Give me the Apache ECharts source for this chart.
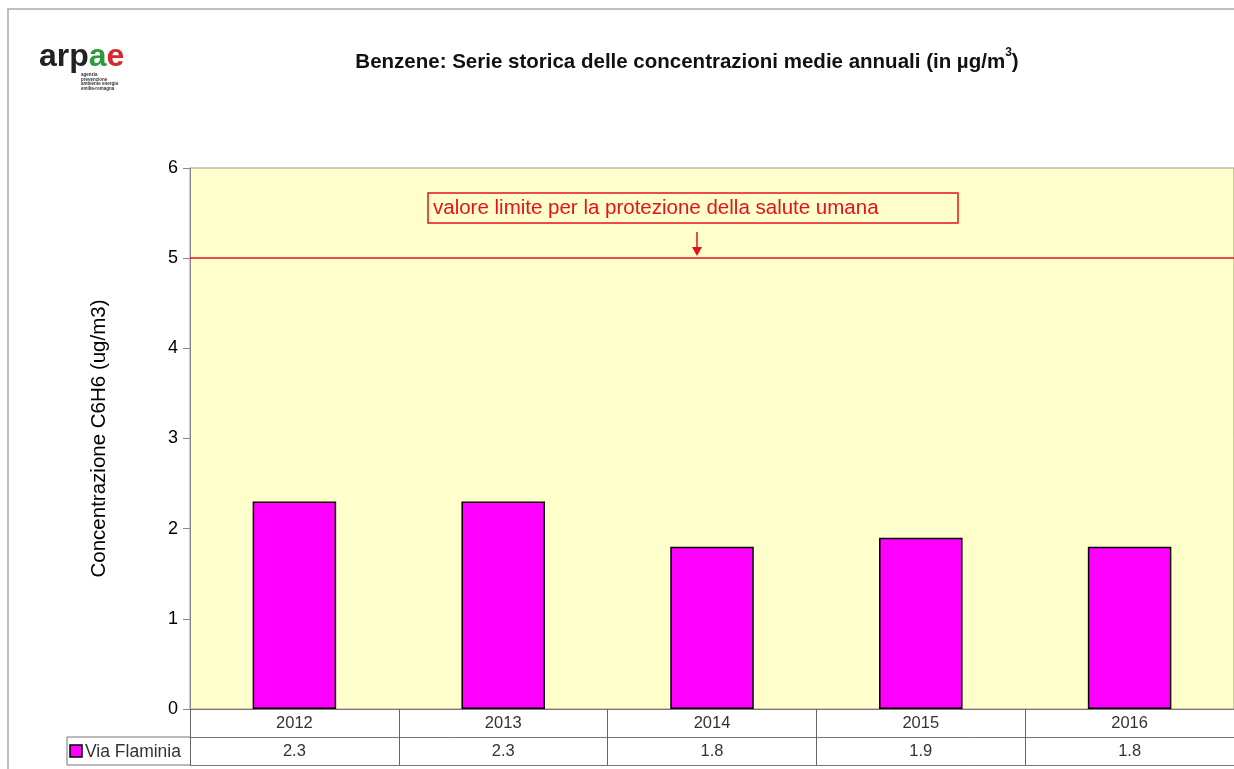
<!DOCTYPE html>
<html><head><meta charset="utf-8">
<script src="https://cdn.jsdelivr.net/npm/echarts@6/dist/echarts.min.js"></script>
<style>html,body{margin:0;padding:0;background:#fff}#c{width:1234px;height:769px}</style>
</head><body><div id="c"></div>
<script>
const categories = ['2012', '2013', '2014', '2015', '2016'];
const seriesName = 'Via Flaminia';
const values = [2.3, 2.3, 1.8, 1.9, 1.8];
const yTicks = [0, 1, 2, 3, 4, 5, 6];
const limitValue = 5;
const limitLabel = 'valore limite per la protezione della salute umana';

const chart = echarts.init(document.getElementById('c'));
const F = 'Liberation Sans, Arial, sans-serif';
const option = {
  backgroundColor: '#fff',
  animation: false,
  title: {
    text: '{t|Benzene: Serie storica delle concentrazioni medie annuali (in µg/m}{s|3}{t|)}',
    left: 682, top: 42, textAlign: 'center',
    textStyle: { rich: {
      t: { fontFamily: F, fontSize: 20.5, fontWeight: 'bold', color: '#111', verticalAlign: 'bottom', lineHeight: 26 },
      s: { fontFamily: F, fontSize: 12, fontWeight: 'bold', color: '#111', verticalAlign: 'top', lineHeight: 26, padding: [0, 0, 10, 0] }
    } }
  },
  grid: { left: 190, right: -4, top: 168, bottom: 60, backgroundColor: '#FFFFCC', show: true, borderColor: '#999', borderWidth: 1 },
  xAxis: [
    {
      type: 'category', data: categories, position: 'bottom',
      axisLine: { show: true, lineStyle: { color: '#777', width: 1 } },
      axisTick: { show: true, alignWithLabel: false, length: 56, lineStyle: { color: '#666' } },
      axisLabel: { fontFamily: F, fontSize: 16.5, color: '#333', margin: 6 }
    },
    {
      type: 'category', data: categories, position: 'bottom', offset: 28,
      axisLine: { show: true, lineStyle: { color: '#777', width: 1 } },
      axisTick: { show: false },
      axisLabel: { fontFamily: F, fontSize: 16.5, color: '#333', margin: 6,
        formatter: (v, i) => values[i].toFixed(1) }
    },
    {
      type: 'category', data: categories, position: 'bottom', offset: 56,
      axisLine: { show: true, lineStyle: { color: '#777', width: 1 } },
      axisTick: { show: false }, axisLabel: { show: false }
    }
  ],
  yAxis: {
    type: 'value', min: yTicks[0], max: yTicks[yTicks.length - 1], interval: 1,
    name: 'Concentrazione C6H6 (ug/m3)', nameLocation: 'middle', nameGap: 80,
    nameTextStyle: { fontFamily: F, fontSize: 20.5, color: '#000' },
    axisLine: { show: true, lineStyle: { color: '#888' } },
    axisTick: { show: true, length: 7, lineStyle: { color: '#888' } },
    axisLabel: { fontFamily: F, fontSize: 18, color: '#000', margin: 12 },
    splitLine: { show: false }
  },
  series: [{
    name: seriesName, type: 'bar', data: values, barWidth: '40%',
    itemStyle: { color: '#FF00FF', borderColor: '#000', borderWidth: 1.5 },
    markLine: {
      silent: true, symbol: 'none', label: { show: false },
      lineStyle: { color: '#E8101A', width: 1.5, type: 'solid' },
      data: [{ yAxis: limitValue }]
    }
  }],
  graphic: [
    { type: 'rect', shape: { x: 8, y: 9, width: 1400, height: 900 }, style: { fill: 'none', stroke: '#aaa', lineWidth: 1.5 }, z: 100 },
    { type: 'line', shape: { x1: 67, y1: 737, x2: 190, y2: 737 }, style: { stroke: '#777', lineWidth: 1 } },
    { type: 'line', shape: { x1: 67, y1: 765, x2: 190, y2: 765 }, style: { stroke: '#777', lineWidth: 1 } },
    { type: 'line', shape: { x1: 67, y1: 737, x2: 67, y2: 765 }, style: { stroke: '#777', lineWidth: 1 } },
    { type: 'rect', shape: { x: 70, y: 745, width: 12, height: 12 }, style: { fill: '#FF00FF', stroke: '#000', lineWidth: 1.5 } },
    { type: 'text', x: 85, y: 752, style: { text: seriesName, fontFamily: F, fontSize: 17.5, fill: '#333', verticalAlign: 'middle' } },
    { type: 'rect', shape: { x: 428, y: 193, width: 530, height: 30 }, style: { fill: 'none', stroke: '#E8101A', lineWidth: 1.5 } },
    { type: 'text', x: 433, y: 208, style: { text: limitLabel, fontFamily: F, fontSize: 20.5, fill: '#E8101A', verticalAlign: 'middle' } },
    { type: 'line', shape: { x1: 697, y1: 232, x2: 697, y2: 250 }, style: { stroke: '#E8101A', lineWidth: 1.5 } },
    { type: 'polygon', shape: { points: [[692, 247], [702, 247], [697, 256]] }, style: { fill: '#E8101A' } },
    { type: 'text', x: 39, y: 57, style: { text: '{b|arp}{g|a}{r|e}', verticalAlign: 'middle',
      rich: { b: { fontFamily: F, fontSize: 32, fontWeight: 'bold', fill: '#222' },
              g: { fontFamily: F, fontSize: 32, fontWeight: 'bold', fill: '#2E9B3A' },
              r: { fontFamily: F, fontSize: 32, fontWeight: 'bold', fill: '#D7262E' } } } },
    { type: 'text', x: 81, y: 73, style: { text: 'agenzia\nprevenzione\nambiente energia\nemilia-romagna', fontFamily: F, fontSize: 4.5, fontWeight: 'bold', lineHeight: 4.5, fill: '#333' } }
  ]
};
chart.setOption(option);
</script>
</body></html>
